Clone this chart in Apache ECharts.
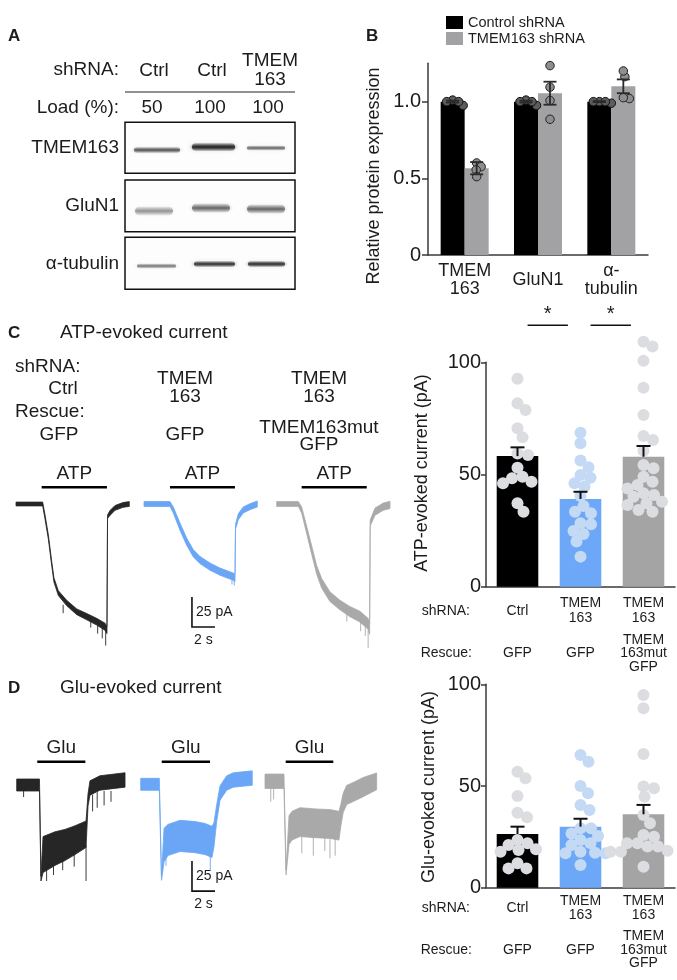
<!DOCTYPE html>
<html><head><meta charset="utf-8">
<script src="https://cdn.jsdelivr.net/npm/echarts@6/dist/echarts.min.js"></script>
<style>html,body{margin:0;padding:0;background:#fff}#c{width:677px;height:980px}</style>
</head><body><div id="c"></div>
<script>
// ================= DATA =================
// Panel A (western blot)
const blotLanes = ['Ctrl', 'Ctrl', 'TMEM\n163'];
const blotLoads = ['50', '100', '100'];
const blotRows = ['TMEM163', 'GluN1', 'α-tubulin'];
const blotBandDensity = [[0.70, 0.98, 0.62], [0.42, 0.60, 0.60], [0.55, 0.88, 0.90]];

// Panel B
const proteinCats = ['TMEM\n163', 'GluN1', 'α-\ntubulin'];
const ctrlShMean = [1.0, 1.0, 1.0];
const ctrlShSem = [0.006, 0.006, 0.003];
const tmemShMean = [0.566, 1.055, 1.10];
const tmemShSem = [0.04, 0.075, 0.045];
const ctrlShDots = [[0.975, 1.01, 1.0, 1.0], [0.975, 1.01, 1.0, 1.0], [0.99, 1.0, 1.0, 1.0]];
const tmemShDots = [[0.60, 0.576, 0.555, 0.511], [1.235, 1.094, 1.007, 0.885], [1.163, 1.20, 1.02, 1.026]];

// Panels C / D bar charts
const shRNACats = ['Ctrl', 'TMEM\n163', 'TMEM\n163'];
const rescueCats = ['GFP', 'GFP', 'TMEM\n163mut\nGFP'];
const atpMean = [58.2, 39.1, 57.9];
const atpSem = [3.9, 3.2, 4.8];
const atpCtrl = [92.7, 81.7, 78.7, 70.6, 66.6, 59.4, 58.7, 53.0, 49.0, 48.3, 46.8, 46.1, 37.2, 33.4];
const atpTmem = [68.6, 63.9, 56.2, 53.2, 49.8, 48.6, 46.1, 44.6, 40.4, 36.0, 33.4, 32.7, 28.3, 27.8, 24.8, 23.5, 20.1, 13.4];
const atpMut = [109.2, 107.0, 100.7, 88.7, 76.5, 67.2, 65.4, 60.6, 54.2, 52.8, 49.0, 46.8, 45.3, 43.8, 41.6, 40.9, 40.1, 37.9, 37.2, 36.4, 34.2, 33.4];
const gluMean = [26.4, 30.0, 36.1];
const gluSem = [3.6, 3.9, 4.6];
const gluCtrl = [57.0, 53.8, 45.1, 36.9, 34.6, 23.5, 21.8, 21.0, 18.9, 18.5, 17.7, 12.0, 9.5, 9.5];
const gluTmem = [65.2, 61.9, 50.0, 46.4, 40.7, 38.2, 29.2, 29.2, 26.7, 25.4, 23.5, 21.8, 21.0, 17.7, 17.2, 16.9, 16.9, 11.2];
const gluMut = [94.7, 88.2, 65.7, 49.7, 48.9, 44.7, 35.7, 31.7, 25.9, 25.1, 21.8, 21.8, 20.2, 20.2, 18.2, 17.7, 17.7, 10.3];
const atpSigPairs = [[0, 1], [1, 2]];
const yTicksB = [0, 0.5, 1.0];

// Example traces: time (s), current (pA), noise half-width (pA)
const atpCtrlT = [0, 2.32, 2.52, 2.81, 3.10, 3.30, 3.68, 4.41, 5.28, 6.15, 7.02, 7.74, 7.91, 7.96, 8.17, 8.61, 9.30, 9.85];
const atpCtrlI = [0, 0, -10.6, -27.3, -49.2, -63.3, -74.2, -82.5, -89.8, -93.9, -98.1, -102.3, -105, -10.6, -7.5, -3.3, -0.8, 0];
const atpCtrlN = [1.6, 1.6, 1.8, 1.8, 1.8, 1.8, 2.0, 2.2, 2.4, 2.6, 2.8, 3.0, 3.0, 1.5, 2.0, 2.0, 2.0, 2.0];
const atpTmemT = [0, 2.26, 2.55, 3.13, 3.71, 4.29, 4.87, 5.74, 6.61, 7.77, 7.91, 7.96, 8.2, 8.63, 9.22, 9.85];
const atpTmemI = [0, 0, -5, -18.9, -31.4, -41.1, -46.7, -52.2, -56.4, -60.6, -61.7, -18.9, -10.6, -5, -2.2, 0];
const atpTmemN = [2.0, 2.0, 2.5, 3.0, 3.0, 3.0, 3.0, 3.0, 3.0, 3.0, 3.0, 2.0, 2.5, 2.5, 2.5, 2.5];
const atpMutT = [0, 1.88, 2.17, 2.61, 3.04, 3.48, 3.91, 4.63, 5.50, 6.37, 7.24, 7.97, 8.08, 8.13, 8.55, 9.27, 9.85];
const atpMutI = [0, 0, -5, -21.7, -38.3, -55, -66.1, -77.2, -84.2, -89.7, -93.9, -100, -104, -15.8, -6.4, -2.2, -0.8];
const atpMutN = [2.0, 2.0, 2.5, 3.0, 3.5, 3.5, 4.0, 4.0, 4.0, 4.2, 4.5, 4.5, 4.5, 2.5, 3.0, 3.0, 3.0];
const gluCtrlT = [0, 1.98, 2.11, 2.29, 3.33, 4.2, 5.07, 6.03, 6.2, 6.37, 7.24, 9.42];
const gluCtrlI = [0, 0, -78, -58, -53, -50, -46, -41, -12.5, -2.5, 1.7, 4.2];
const gluCtrlN = [5, 5, 2, 15, 14, 13, 12, 11, 5, 6, 6, 6];
const gluTmemT = [0, 1.62, 1.81, 2.03, 2.37, 3.42, 4.72, 5.59, 6.2, 6.37, 6.61, 6.9, 7.48, 8.05, 9.7];
const gluTmemI = [0, 0, -78, -50.6, -46.4, -43, -44, -45.6, -48, -42, -24, -7.2, 1.1, 3.6, 5.2];
const gluTmemN = [5, 5, 2, 14, 13, 13, 13, 13, 13, 10, 7, 6, 6, 6, 6];
const gluMutT = [0, 1.65, 1.83, 2.09, 2.35, 3.04, 4.35, 5.65, 6.43, 6.6, 6.8, 7.1, 7.67, 8.54, 9.71];
const gluMutI = [0, 0, -76, -40.6, -37, -34, -35, -35.6, -37, -28, -18, -11.4, -8.9, -4.8, 0];
const gluMutN = [6, 6, 2, 12, 12, 12, 12, 12, 12, 9, 8, 8, 8, 8, 7];
// spikes: [time, from, to] (pA)
const atpCtrlSpk = [[4.1, -84, -91], [6.5, -95, -103], [7.1, -98, -108], [7.5, -100, -112], [7.8, -102, -118]];
const atpTmemSpk = [[7.65, -60, -67], [7.85, -61, -68]];
const atpMutSpk = [[6.1, -88, -98], [7.3, -95, -106], [7.7, -97, -110], [7.95, -99, -120]];
const gluCtrlSpk = [[0.6, -4, -10], [2.6, -65, -80], [3.2, -60, -75], [4.0, -58, -71], [5.0, -55, -68], [6.03, -50, -80], [6.6, -8, -22], [7.0, -6, -19], [7.6, -5, -17], [8.2, -5, -14]];
const gluTmemSpk = [[6.05, -55, -72], [2.2, -55, -68]];
const gluMutSpk = [[0.5, -6, -17], [0.75, -6, -15], [3.2, -45, -60], [4.2, -45, -62], [5.2, -45, -58], [5.65, -46, -64], [6.1, -47, -62]];
// drug application windows (s)
const atpOn = [2.23, 2.26, 2.17], atpOff = [7.91, 7.91, 7.83];
const gluOn = [1.79, 1.83, 1.80], gluOff = [5.97, 6.03, 5.94];
const scaleBar = { pA: 25, s: 2 };

// ================= STYLE / LAYOUT =================
const FONT = '"Liberation Sans", Arial, Helvetica, sans-serif';
const TXT = '#1c1c1c';
const AX = '#3a3a3a';
const COL_BLUE = '#6ca8f7', COL_GRAY = '#a4a4a4';
const barColors = ['#000000', COL_BLUE, COL_GRAY];
const dotColors = ['#dcdde0', '#c4daf4', '#dcdde0'];
const traceColors = ['#262626', '#6aa6f5', '#a9a9a9'];

const G_B = { left: 428, top: 63.3, width: 220, height: 191.7 };
const G_C = { left: 486, top: 362.3, width: 189, height: 224.4 };
const G_D = { left: 486, top: 684.3, width: 189, height: 203.4 };
const PX_S = 11.5, PX_PA = 1.2;
const atpLefts = [16, 144, 276.7], atpBase = [504, 504, 504];
const gluLefts = [16.7, 140.7, 265], gluBase = [785, 784.3, 781.3];
const ATP_Y = [-130, 20], GLU_Y = [-100, 25];
const ATP_BAR_Y = 487.3, GLU_BAR_Y = 761.7; // pixel row of application bars

function swarmOffsets(vals, pxPerUnit, minDist) {
  const idx = vals.map((v, i) => i).sort((a, b) => vals[b] - vals[a]);
  const placed = [];
  const out = new Array(vals.length).fill(0);
  for (const i of idx) {
    const y = vals[i] * pxPerUnit;
    for (let k = 0; k < 400; k++) {
      const x = k === 0 ? 0 : (k % 2 ? 1 : -1) * Math.ceil(k / 2) * 0.5;
      if (placed.every(p => Math.hypot(p.x - x, p.y - y) >= minDist)) { out[i] = x; break; }
    }
    placed.push({ x: out[i], y });
  }
  return out;
}

const grids = [], xAxes = [], yAxes = [], series = [];
function txtStyle(size, extra) { return Object.assign({ fontFamily: FONT, fontSize: size, color: TXT }, extra || {}); }

// ---------- Panel B ----------
grids.push(Object.assign({ outerBoundsMode: 'none', containLabel: false }, G_B)); // 0
xAxes.push({ gridIndex: 0, type: 'category', data: proteinCats, position: 'bottom',
  axisLine: { onZero: false, lineStyle: { color: AX, width: 1.5 } }, axisTick: { show: false },
  axisLabel: txtStyle(18, { lineHeight: 18, verticalAlign: 'middle', margin: 25, interval: 0 }) }); // 0
xAxes.push({ gridIndex: 0, type: 'value', min: -0.5, max: 2.5, show: false }); // 1
yAxes.push({ gridIndex: 0, type: 'value', min: 0, max: 1.25,
  axisLine: { show: true, onZero: false, lineStyle: { color: AX, width: 1.5 } },
  axisTick: { show: true, length: 6, customValues: yTicksB, lineStyle: { color: AX, width: 1.5 } },
  axisLabel: txtStyle(20, { margin: 7, customValues: yTicksB, formatter: v => v === 0 ? '0' : v.toFixed(1) }),
  splitLine: { show: false } }); // 0

const catPxB = G_B.width / 3, pxUnitB = G_B.height / 1.25, BW = 24;
series.push({ type: 'bar', name: 'Control shRNA', xAxisIndex: 0, yAxisIndex: 0, data: ctrlShMean, barWidth: BW, barGap: '0%', itemStyle: { color: '#000' }, z: 2 });
series.push({ type: 'bar', name: 'TMEM163 shRNA', xAxisIndex: 0, yAxisIndex: 0, data: tmemShMean, barWidth: BW, barGap: '0%', itemStyle: { color: '#a2a2a5' }, z: 2 });
function bDots(groups, side) {
  const out = [];
  groups.forEach((vals, c) => {
    const off = swarmOffsets(vals, pxUnitB, 5.8);
    vals.forEach((v, i) => out.push([c + (side * BW / 2 + off[i]) / catPxB, v]));
  });
  return out;
}
series.push({ type: 'scatter', xAxisIndex: 1, yAxisIndex: 0, data: bDots(ctrlShDots, -1), symbolSize: 8.5, clip: false,
  itemStyle: { color: '#5c5c5c', borderColor: '#111', borderWidth: 1, opacity: 1 }, z: 3 });
series.push({ type: 'scatter', xAxisIndex: 1, yAxisIndex: 0, data: bDots(tmemShDots, 1), symbolSize: 8.5, clip: false,
  itemStyle: { color: '#8e8e8e', borderColor: '#222', borderWidth: 1, opacity: 1 }, z: 3 });
const bErr = [];
ctrlShMean.forEach((m, i) => bErr.push([i - BW / 2 / catPxB, m, ctrlShSem[i]]));
tmemShMean.forEach((m, i) => bErr.push([i + BW / 2 / catPxB, m, tmemShSem[i]]));
series.push({ type: 'custom', xAxisIndex: 1, yAxisIndex: 0, data: bErr, z: 4, encode: { x: 0, y: 1 },
  renderItem: (p, api) => {
    const x = api.value(0), m = api.value(1), s = api.value(2);
    const a = api.coord([x, m + s]), b = api.coord([x, m - s]);
    const st = { stroke: '#2a2a2a', lineWidth: 1.8 };
    return { type: 'group', children: [
      { type: 'line', shape: { x1: a[0], y1: a[1], x2: b[0], y2: b[1] }, style: st },
      { type: 'line', shape: { x1: a[0] - 6.5, y1: a[1], x2: a[0] + 6.5, y2: a[1] }, style: st },
      { type: 'line', shape: { x1: b[0] - 6.5, y1: b[1], x2: b[0] + 6.5, y2: b[1] }, style: st }] };
  } });

// ---------- Panels C and D bar charts ----------
function barPanel(G, gi, means, sems, dotGroups, shMargin, rsMargin, sig) {
  grids.push(Object.assign({ outerBoundsMode: 'none', containLabel: false }, G));
  const xc = xAxes.length;
  xAxes.push({ gridIndex: gi, type: 'category', data: shRNACats, position: 'bottom',
    axisLine: { onZero: false, lineStyle: { color: AX, width: 1.5 } }, axisTick: { show: false },
    axisLabel: txtStyle(14, { lineHeight: 14.5, verticalAlign: 'middle', margin: shMargin, interval: 0 }) });
  xAxes.push({ gridIndex: gi, type: 'category', data: rescueCats, position: 'bottom',
    axisLine: { show: false, onZero: false }, axisTick: { show: false },
    axisLabel: txtStyle(14, { lineHeight: 13.5, verticalAlign: 'middle', margin: rsMargin, interval: 0 }) });
  const xv = xAxes.length;
  xAxes.push({ gridIndex: gi, type: 'value', min: -0.5, max: 2.5, show: false });
  const yi = yAxes.length;
  yAxes.push({ gridIndex: gi, type: 'value', min: 0, max: 100, interval: 50,
    axisLine: { show: true, onZero: false, lineStyle: { color: AX, width: 1.5 } },
    axisTick: { show: true, length: 5, lineStyle: { color: AX, width: 1.5 } },
    axisLabel: txtStyle(20, { margin: 5 }), splitLine: { show: false } });
  series.push({ type: 'bar', xAxisIndex: xc, yAxisIndex: yi, barWidth: '66%', z: 2,
    data: means.map((v, i) => ({ value: v, itemStyle: { color: barColors[i] } })) });
  const catPx = G.width / 3, pxUnit = G.height / 100;
  dotGroups.forEach((vals, g) => {
    const off = swarmOffsets(vals, pxUnit, 10.2);
    series.push({ type: 'scatter', xAxisIndex: xv, yAxisIndex: yi, symbolSize: 12, clip: false, z: 3,
      itemStyle: { color: dotColors[g], opacity: 1 },
      data: vals.map((v, i) => [g + off[i] / catPx, v]) });
  });
  series.push({ type: 'custom', xAxisIndex: xc, yAxisIndex: yi, z: 4, encode: { x: 0, y: 1 },
    data: means.map((m, i) => [i, m, sems[i]]),
    renderItem: (p, api) => {
      const x = api.value(0), m = api.value(1), s = api.value(2);
      const a = api.coord([x, m]), b = api.coord([x, m + s]);
      const st = { stroke: '#111', lineWidth: 2 };
      return { type: 'group', children: [
        { type: 'line', shape: { x1: a[0], y1: a[1], x2: b[0], y2: b[1] }, style: st },
        { type: 'line', shape: { x1: b[0] - 7, y1: b[1], x2: b[0] + 7, y2: b[1] }, style: st }] };
    } });
  if (sig) {
    series.push({ type: 'custom', xAxisIndex: xv, yAxisIndex: yi, z: 4, data: sig, clip: false,
      renderItem: (p, api) => {
        const a = api.coord([api.value(0) + 0.16, 100]), b = api.coord([api.value(1) - 0.2, 100]);
        const y = a[1] - 37;
        return { type: 'group', children: [
          { type: 'line', shape: { x1: a[0], y1: y, x2: b[0], y2: y }, style: { stroke: '#111', lineWidth: 1.5 } },
          { type: 'text', x: (a[0] + b[0]) / 2, y: y - 1, style: { text: '*', font: '20px ' + FONT, fill: TXT, align: 'center', verticalAlign: 'bottom' } }] };
      } });
  }
}
barPanel(G_C, 1, atpMean, atpSem, [atpCtrl, atpTmem, atpMut], 24, 66.5, atpSigPairs);
barPanel(G_D, 2, gluMean, gluSem, [gluCtrl, gluTmem, gluMut], 20.5, 62);

// ---------- Example traces ----------
function bandRender(T, I, N, color) {
  return (p, api) => {
    const up = [], lo = [];
    for (let i = 0; i < T.length; i++) { up.push(api.coord([T[i], I[i] + N[i]])); lo.push(api.coord([T[i], I[i] - N[i]])); }
    return { type: 'polygon', shape: { points: up.concat(lo.reverse()) }, style: { fill: color, stroke: color, lineWidth: 0.8 } };
  };
}
function traceGroup(lefts, bases, yr, traces, on, off, barY, label, sbIdx, sbAnchor) {
  traces.forEach((tr, k) => {
    const gi = grids.length;
    const h = (yr[1] - yr[0]) * PX_PA;
    grids.push({ left: lefts[k], top: bases[k] - yr[1] * PX_PA, width: 10 * PX_S, height: h, outerBoundsMode: 'none', containLabel: false });
    const xi = xAxes.length, yi = yAxes.length;
    xAxes.push({ gridIndex: gi, type: 'value', min: 0, max: 10, show: false });
    yAxes.push({ gridIndex: gi, type: 'value', min: yr[0], max: yr[1], show: false });
    const col = traceColors[k];
    series.push({ type: 'custom', xAxisIndex: xi, yAxisIndex: yi, data: [[0, 0]], clip: false, z: 2,
      renderItem: bandRender(tr.T, tr.I, tr.N, col) });
    series.push({ type: 'custom', xAxisIndex: xi, yAxisIndex: yi, data: tr.S, clip: false, z: 2, encode: { x: 0, y: 1 },
      renderItem: (p, api) => {
        const a = api.coord([api.value(0), api.value(1)]), b = api.coord([api.value(0), api.value(2)]);
        return { type: 'line', shape: { x1: a[0], y1: a[1], x2: b[0], y2: b[1] }, style: { stroke: col, lineWidth: 0.9 } };
      } });
    const lvl = (bases[k] - barY) / PX_PA;
    series.push({ type: 'custom', xAxisIndex: xi, yAxisIndex: yi, data: [[on[k], off[k]]], clip: false, z: 3,
      renderItem: (p, api) => {
        const a = api.coord([api.value(0), lvl]), b = api.coord([api.value(1), lvl]);
        return { type: 'group', children: [
          { type: 'line', shape: { x1: a[0], y1: a[1], x2: b[0], y2: b[1] }, style: { stroke: '#000', lineWidth: 2.6 } },
          { type: 'text', x: (a[0] + b[0]) / 2, y: a[1] - 4, style: { text: label, font: '19px ' + FONT, fill: TXT, align: 'center', verticalAlign: 'bottom' } }] };
      } });
    if (k === sbIdx) {
      series.push({ type: 'custom', xAxisIndex: xi, yAxisIndex: yi, data: [sbAnchor], clip: false, z: 3,
        renderItem: (p, api) => {
          const t = api.value(0), v = api.value(1);
          const a = api.coord([t, v]), b = api.coord([t, v - scaleBar.pA]), c = api.coord([t + scaleBar.s, v - scaleBar.pA]);
          return { type: 'group', children: [
            { type: 'polyline', shape: { points: [a, b, c] }, style: { stroke: '#111', lineWidth: 1.6, fill: null } },
            { type: 'text', x: b[0] + 4, y: (a[1] + b[1]) / 2, style: { text: scaleBar.pA + ' pA', font: '14px ' + FONT, fill: TXT, align: 'left', verticalAlign: 'middle' } },
            { type: 'text', x: (b[0] + c[0]) / 2, y: b[1] + 13, style: { text: scaleBar.s + ' s', font: '14px ' + FONT, fill: TXT, align: 'center', verticalAlign: 'middle' } }] };
        } });
    }
  });
}
traceGroup(atpLefts, atpBase, ATP_Y, [
  { T: atpCtrlT, I: atpCtrlI, N: atpCtrlN, S: atpCtrlSpk },
  { T: atpTmemT, I: atpTmemI, N: atpTmemN, S: atpTmemSpk },
  { T: atpMutT, I: atpMutI, N: atpMutN, S: atpMutSpk }], atpOn, atpOff, ATP_BAR_Y, 'ATP', 1, [4.17, -77.5]);
traceGroup(gluLefts, gluBase, GLU_Y, [
  { T: gluCtrlT, I: gluCtrlI, N: gluCtrlN, S: gluCtrlSpk },
  { T: gluTmemT, I: gluTmemI, N: gluTmemN, S: gluTmemSpk },
  { T: gluMutT, I: gluMutI, N: gluMutN, S: gluMutSpk }], gluOn, gluOff, GLU_BAR_Y, 'Glu', 1, [4.46, -64]);

// ---------- Graphic: texts and blot ----------
const gfx = [];
function T(text, x, y, size, opts) {
  opts = opts || {};
  const al = opts.align || 'left', va = opts.va || 'middle';
  gfx.push({ type: 'text', x, y, rotation: opts.rot || 0, z: 10,
    style: { text, font: (opts.bold ? 'bold ' : '') + size + 'px ' + FONT, fill: TXT,
      align: al, verticalAlign: va, textAlign: al, textVerticalAlign: va, lineHeight: opts.lh || size } });
}
// Panel letters
T('A', 8, 36, 17, { bold: true });
T('B', 366, 36, 17, { bold: true });
T('C', 8, 333, 17, { bold: true });
T('D', 8, 688, 17, { bold: true });
// Panel A
const laneCx = [154, 212, 270];
T('shRNA:', 119, 70, 19, { align: 'right' });
blotLanes.forEach((s, i) => T(s, laneCx[i], 70.5, 19, { align: 'center', lh: 19 }));
gfx.push({ type: 'line', shape: { x1: 125, y1: 92, x2: 295, y2: 92 }, style: { stroke: '#222', lineWidth: 1 } });
T('Load (%):', 119, 108, 19, { align: 'right' });
const loadCx = [152, 210, 268];
blotLoads.forEach((s, i) => T(s, loadCx[i], 108, 19, { align: 'center' }));
const boxY = [[122.3, 173.3], [180, 231.7], [237.3, 289.3]];
const bandY = [[150, 147, 148], [211, 208, 209], [266, 264, 264]];
const bandH = [[6, 8, 5], [9, 9, 9], [5, 6, 6]];
const bandX = [[[132, 182], [190, 237], [245, 287]], [[133, 175], [190, 232], [245, 287]], [[135, 178], [192, 237], [246, 287]]];
blotRows.forEach((r, j) => {
  gfx.push({ type: 'rect', shape: { x: 125, y: boxY[j][0], width: 170, height: boxY[j][1] - boxY[j][0] }, style: { fill: '#fdfdfd', stroke: '#111', lineWidth: 1.5 } });
  T(r, 119, (boxY[j][0] + boxY[j][1]) / 2, 19, { align: 'right' });
  blotBandDensity[j].forEach((d, i) => {
    const [x1, x2] = bandX[j][i], h = bandH[j][i], yc = bandY[j][i];
    gfx.push({ type: 'rect', shape: { x: x1 + 2, y: yc - h / 2, width: x2 - x1 - 4, height: h, r: h / 2 },
      style: { fill: new echarts.graphic.LinearGradient(0, 0, 0, 1, [
        { offset: 0, color: 'rgba(35,35,35,' + (d * 0.15) + ')' }, { offset: 0.5, color: 'rgba(35,35,35,' + d + ')' }, { offset: 1, color: 'rgba(35,35,35,' + (d * 0.15) + ')' }]),
        shadowBlur: 4, shadowColor: 'rgba(35,35,35,' + (d * 0.7) + ')' } });
  });
});
// Panel B axis title
T('Relative protein expression', 374, 176, 18, { align: 'center', rot: Math.PI / 2 });
// Panel C texts
T('ATP-evoked current', 60, 333, 19);
T('shRNA:', 15, 367, 19);
T('Ctrl', 63, 389, 19, { align: 'center' });
T('Rescue:', 15, 412, 19);
T('GFP', 59, 435, 19, { align: 'center' });
T('TMEM\n163', 185, 388, 19, { align: 'center', lh: 17.5 });
T('GFP', 185, 435, 19, { align: 'center' });
T('TMEM\n163', 319, 388, 19, { align: 'center', lh: 17.5 });
T('TMEM163mut\nGFP', 319, 436.5, 19, { align: 'center', lh: 17.5 });
T('ATP-evoked current (pA)', 422, 473, 18, { align: 'center', rot: Math.PI / 2 });
T('shRNA:', 470, 611, 14, { align: 'right' });
T('Rescue:', 472, 653, 14, { align: 'right' });
// Panel D texts
T('Glu-evoked current', 60, 688, 19);
T('Glu-evoked current (pA)', 429, 787, 18, { align: 'center', rot: Math.PI / 2 });
T('shRNA:', 470, 908, 14, { align: 'right' });
T('Rescue:', 472, 950, 14, { align: 'right' });

const chart = echarts.init(document.getElementById('c'), null, { renderer: 'canvas', width: 677, height: 980 });
chart.setOption({
  animation: false,
  backgroundColor: '#ffffff',
  textStyle: { fontFamily: FONT },
  legend: { data: ['Control shRNA', 'TMEM163 shRNA'], orient: 'vertical', left: 446, top: 15, padding: 0,
    itemWidth: 17, itemHeight: 13, itemGap: 1, icon: 'rect', selectedMode: false,
    textStyle: { fontFamily: FONT, fontSize: 14.5, color: TXT } },
  grid: grids, xAxis: xAxes, yAxis: yAxes, series: series, graphic: { elements: gfx }
});
</script></body></html>
